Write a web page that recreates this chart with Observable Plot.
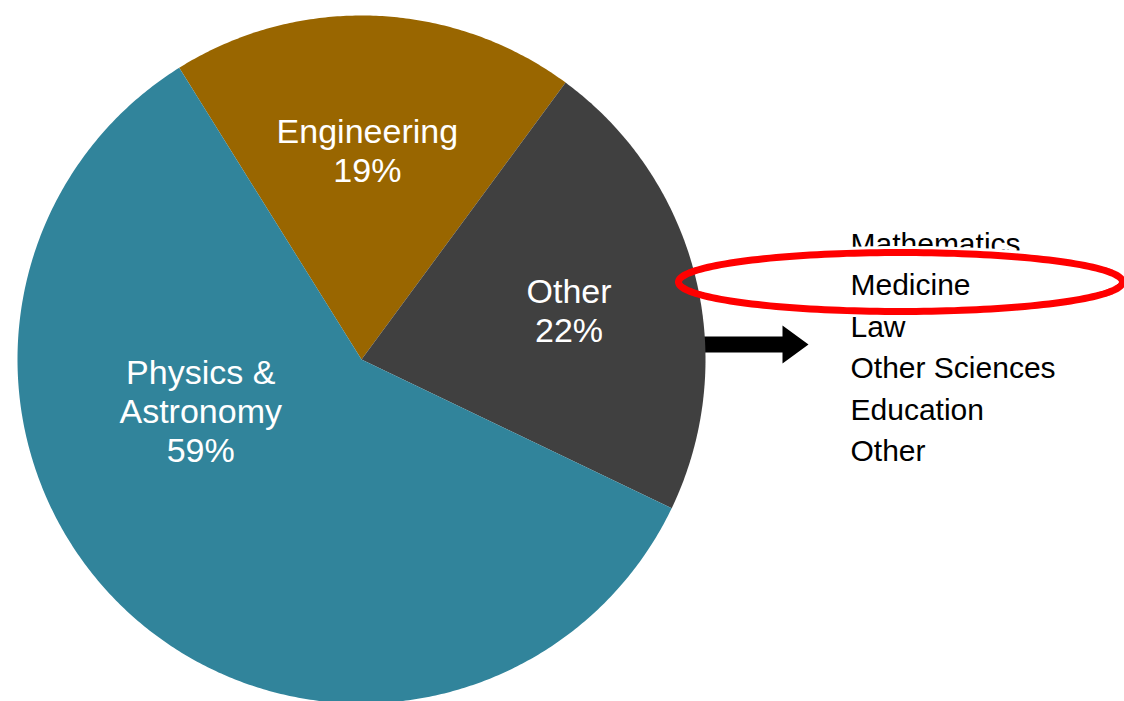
<!DOCTYPE html>
<html><head><meta charset="utf-8">
<script src="https://cdn.jsdelivr.net/npm/d3@7"></script>
<script src="https://cdn.jsdelivr.net/npm/@observablehq/plot@0.6"></script>
<style>body{margin:0;background:#fff} #chart svg{display:block}</style>
</head><body><div id="chart"></div>
<script>
// ---- data ----
const categories = ["Engineering", "Other", "Physics & Astronomy"];
const shares = [19, 22, 59];
const sliceLabels = ["Engineering\n19%", "Other\n22%", "Physics &\nAstronomy\n59%"];
const sliceColors = ["#996600", "#404040", "#31849b"];
const otherBreakdown = ["Mathematics", "Medicine", "Law", "Other Sciences", "Education", "Other"];
const highlighted = "Medicine";

// ---- layout ----
const W = 1124, H = 701;
const FONT = "'Liberation Sans', Arial, Helvetica, sans-serif";
const L = {
  cx: 361, cy: 359, r: 344, startDeg: -32,
  labelPolar: [[0.61, 1.6], [0.62, 76.7], [0.49, 252.5]], // [fraction of radius, degrees clockwise from 12 o'clock]
  listX: 850, listY0: 243.5, listStep: 41.5,
  ell: { rx: 222, ry: 29.5, dx: 50, dy: -3.5 },
  arrow: { x0: 700, x1: 782, x2: 808, y: 344, shaft: 8, head: 19 }
};

const rad = Math.PI / 180;
const pie = d3.pie().sort(null)
  .startAngle(L.startDeg * rad)
  .endAngle(L.startDeg * rad + 2 * Math.PI);
const arcs = pie(shares).map((a, i) => ({...a, cat: categories[i], label: sliceLabels[i]}));

const slicePts = arcs.flatMap(a => {
  const n = Math.max(2, Math.ceil((a.endAngle - a.startAngle) / (0.5 * rad)));
  const pts = [{cat: a.cat, x: L.cx, y: L.cy}];
  for (let k = 0; k <= n; k++) {
    const t = a.startAngle + (a.endAngle - a.startAngle) * k / n;
    pts.push({cat: a.cat, x: L.cx + L.r * Math.sin(t), y: L.cy - L.r * Math.cos(t)});
  }
  return pts;
});

// highlight ellipse around the highlighted entry
const hiIdx = otherBreakdown.indexOf(highlighted);
const ecx = L.listX + L.ell.dx, ecy = L.listY0 + hiIdx * L.listStep + L.ell.dy;
const ellipsePts = d3.range(0, 360, 2).map(d => ({
  x: ecx + L.ell.rx * Math.cos(d * rad), y: ecy + L.ell.ry * Math.sin(d * rad)
}));
// white halo only along the upper arc over the text column
const haloPts = d3.range(200, 342, 2).map(d => ({
  x: ecx + L.ell.rx * Math.cos(d * rad), y: ecy + L.ell.ry * Math.sin(d * rad)
})).filter(p => p.x > L.listX - 10);

const A = L.arrow;
const arrowPts = [
  {x: A.x0, y: A.y - A.shaft}, {x: A.x1, y: A.y - A.shaft}, {x: A.x1, y: A.y - A.head},
  {x: A.x2, y: A.y}, {x: A.x1, y: A.y + A.head}, {x: A.x1, y: A.y + A.shaft}, {x: A.x0, y: A.y + A.shaft}
];

const chart = Plot.plot({
  width: W, height: H, margin: 0,
  x: {domain: [0, W], range: [0, W], axis: null},
  y: {domain: [0, H], range: [0, H], axis: null},
  color: {domain: categories, range: sliceColors},
  style: {fontFamily: FONT, background: "white"},
  marks: [
    Plot.line(arrowPts, {x: "x", y: "y", fill: "black", stroke: "none", curve: "linear-closed"}),
    Plot.line(slicePts, {x: "x", y: "y", z: "cat", fill: "cat", stroke: "none", curve: "linear-closed"}),
    Plot.text(arcs, {
      x: (d, i) => L.cx + L.labelPolar[i][0] * L.r * Math.sin(L.labelPolar[i][1] * rad),
      y: (d, i) => L.cy - L.labelPolar[i][0] * L.r * Math.cos(L.labelPolar[i][1] * rad),
      text: "label", fill: "white", fontSize: 34, lineHeight: 1.15, fontFamily: FONT
    }),
    Plot.text(otherBreakdown, {
      x: () => L.listX, y: (d, i) => L.listY0 + i * L.listStep, text: d => d,
      textAnchor: "start", fill: "black", fontSize: 30, fontFamily: FONT
    }),
    Plot.line(haloPts, {x: "x", y: "y", stroke: "white", strokeWidth: 13, strokeLinecap: "butt"}),
    Plot.line(ellipsePts, {x: "x", y: "y", stroke: "#ff0000", strokeWidth: 7, curve: "linear-closed"})
  ]
});
document.getElementById("chart").appendChild(chart);
</script>
</body></html>
